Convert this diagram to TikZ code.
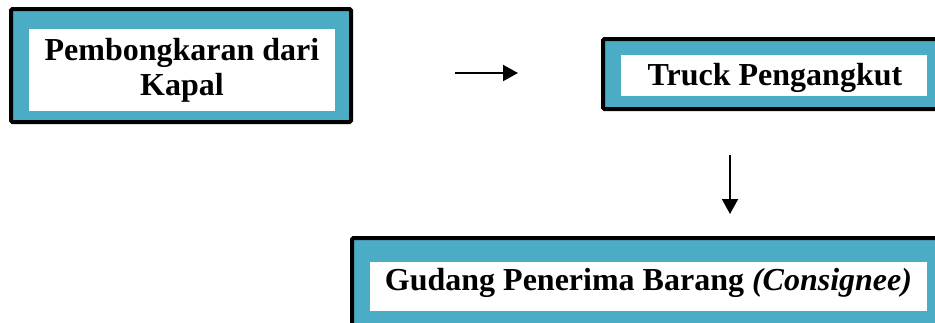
\documentclass[tikz,border=0pt]{standalone}
\usepackage{fontspec}
\setmainfont{Liberation Serif}
\usetikzlibrary{arrows.meta}

\definecolor{aqua}{RGB}{75,172,198}
\tikzset{
	frame/.style = {draw=black, fill=aqua, line width=4pt, rounded corners=1.5pt},
	label/.style = {font=\fontsize{32}{35}\selectfont\bfseries, inner sep=0pt},
	flow/.style = {line width=2pt, -{Triangle[length=15pt, width=16pt]}}
}

\begin{document}
\begin{tikzpicture}[x = 1pt, y = -1pt]
		\useasboundingbox (0,0) rectangle (935,322);
		\clip (0,0) rectangle (935,322);
		% boxes
		\draw [frame] (11,9) rectangle (351,122);
		\fill [white] (29,29) rectangle (335,111);
		\draw [frame] (603,39) rectangle (960,109);
		\fill [white] (621,55) rectangle (927,96);
		\draw [frame] (352,238) rectangle (960,340);
		\fill [white] (370,262) rectangle (927,311);
		% texts
		\node [label, align=center] (kapal) at (182,70.2) {Pembongkaran dari\\Kapal};
		\node [label, anchor=base] (truck) at (775,85) {Truck Pengangkut};
		\node [label, anchor=base] (gudang) at (648.5,290) {Gudang Penerima Barang \textit{(Consignee)}};
		% arrows
		\coordinate (toTruckA) at (455,73);
		\coordinate (toTruckB) at (518,73);
		\coordinate (toGudangA) at (730,155);
		\coordinate (toGudangB) at (730,214);
		\draw [flow] (toTruckA) -- (toTruckB);
		\draw [flow] (toGudangA) -- (toGudangB);
	\end{tikzpicture}
\end{document}
